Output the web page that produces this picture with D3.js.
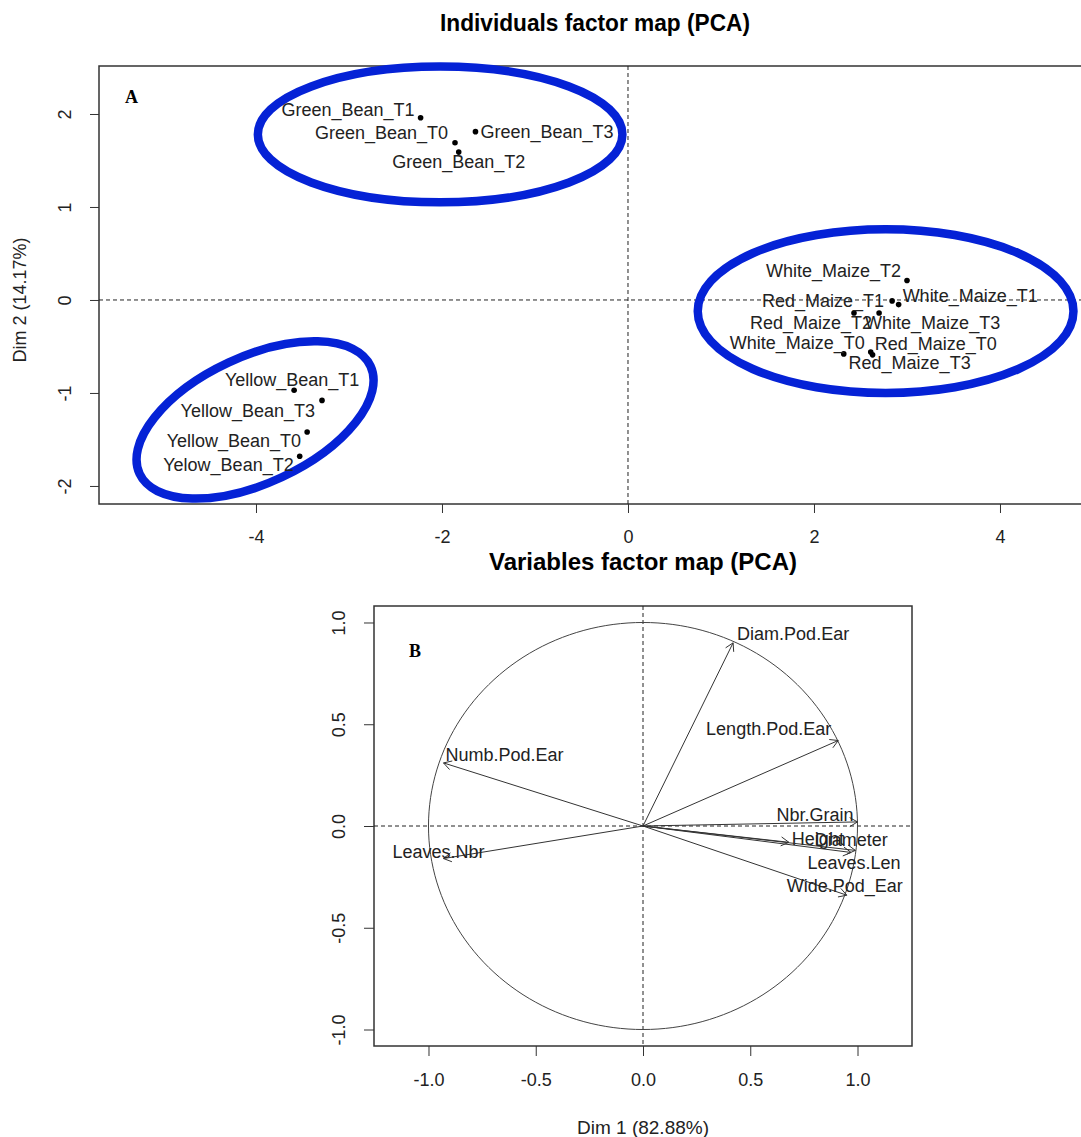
<!DOCTYPE html>
<html>
<head>
<meta charset="utf-8">
<script src="https://cdn.jsdelivr.net/npm/d3@7"></script>
<style>
  body { margin: 0; background: #fff; }
  svg { display: block; font-family: "Liberation Sans", Arial, sans-serif; }
</style>
</head>
<body>
<svg width="1081" height="1137"></svg>
<script>
// individuals (PCA scores, Dim 1 / Dim 2)
var indNames = ["Green_Bean_T1", "Green_Bean_T0", "Green_Bean_T3", "Green_Bean_T2",
  "White_Maize_T2", "White_Maize_T1", "Red_Maize_T1", "Red_Maize_T2", "White_Maize_T3",
  "White_Maize_T0", "Red_Maize_T0", "Red_Maize_T3",
  "Yellow_Bean_T1", "Yellow_Bean_T3", "Yellow_Bean_T0", "Yelow_Bean_T2"];
var indDim1 = [-2.23, -1.86, -1.64, -1.82, 3.00, 2.91, 2.84, 2.43, 2.70, 2.32, 2.61, 2.63, -3.59, -3.29, -3.45, -3.53];
var indDim2 = [1.96, 1.69, 1.81, 1.59, 0.21, -0.05, -0.01, -0.14, -0.14, -0.58, -0.56, -0.59, -0.97, -1.08, -1.42, -1.68];

// label placement around each point: [anchor, dx, dy] in px
var indLabelPos = [["end", -6, -8], ["end", -7, -10], ["start", 5, 0], ["middle", 0, 10],
  ["end", -6, -9], ["start", 4, -9], ["end", -8, 0], ["end", 18, 10], ["start", -14, 10],
  ["end", 21, -11], ["start", 4, -8], ["start", -24, 8],
  ["middle", -2, -10], ["end", -7, 11], ["end", -6, 9], ["end", -6, 9]];

// group ellipses drawn by hand: centre, semi-axes (dim units), tilt (deg)
var groupCx = [-2.02, 2.77, -4.01];
var groupCy = [1.78, -0.12, -1.29];
var groupRx = [1.96, 2.02, 1.37];
var groupRy = [0.73, 0.88, 0.68];
var groupTilt = [0, 0, -25];

// variables (correlations with Dim 1 / Dim 2)
var varNames = ["Diam.Pod.Ear", "Length.Pod.Ear", "Numb.Pod.Ear", "Nbr.Grain", "Height",
  "Diameter", "Leaves.Len", "Wide.Pod_Ear", "Leaves.Nbr"];
var varDim1 = [0.42, 0.91, -0.93, 1.00, 0.68, 0.99, 0.97, 0.95, -0.93];
var varDim2 = [0.90, 0.42, 0.31, 0.02, -0.08, -0.12, -0.13, -0.34, -0.16];
var varLabelPos = [["start", 4, -9], ["end", -7, -12], ["start", 2, -8], ["end", -4, -7],
  ["start", 3, -3], ["middle", -4, -10], ["middle", 3, 11], ["middle", -2, -9], ["middle", -5, -7]];

var ticksA_x = [-4, -2, 0, 2, 4];
var ticksA_y = [-2, -1, 0, 1, 2];
var ticksB = [-1, -0.5, 0, 0.5, 1];

var svg = d3.select("svg");
var ink = "#222";
// R prints a plain hyphen for negatives
function hy(f) { return function(v) { return f(v).replace("\u2212", "-"); }; }

// ---------- panel A ----------
var xA = d3.scaleLinear().domain([-5.688, 5]).range([99, 1093]);
var yA = d3.scaleLinear().domain([-2.194, 2.516]).range([504, 66]);

svg.append("text")
  .attr("x", 595).attr("y", 31)
  .attr("text-anchor", "middle")
  .attr("textLength", 310).attr("lengthAdjust", "spacingAndGlyphs")
  .style("font-weight", "bold").style("font-size", "24px")
  .text("Individuals factor map (PCA)");

var gA = svg.append("g");

gA.append("rect")
  .attr("x", 99).attr("y", 66)
  .attr("width", 1093 - 99).attr("height", 504 - 66)
  .attr("fill", "none").attr("stroke", "#333").attr("stroke-width", 1.5);

gA.append("line")
  .attr("x1", xA(0)).attr("x2", xA(0)).attr("y1", 66).attr("y2", 504)
  .attr("stroke", "#222").attr("stroke-dasharray", "4,3");
gA.append("line")
  .attr("x1", 99).attr("x2", 1093).attr("y1", yA(0)).attr("y2", yA(0))
  .attr("stroke", "#222").attr("stroke-dasharray", "4,3");

var axA_x = gA.append("g")
  .attr("transform", "translate(0,504)")
  .call(d3.axisBottom(xA).tickValues(ticksA_x).tickSize(9).tickPadding(17).tickFormat(hy(d3.format("d"))));
var axA_y = gA.append("g")
  .attr("transform", "translate(99,0)")
  .call(d3.axisLeft(yA).tickValues(ticksA_y).tickSize(9).tickFormat(hy(d3.format("d"))));
[axA_x, axA_y].forEach(function(a) {
  a.select(".domain").remove();
  a.selectAll("line").attr("stroke", "#333");
  a.selectAll("text").style("font-size", "18px").attr("fill", ink)
    .style("font-family", "'Liberation Sans', Arial, sans-serif");
});
axA_y.selectAll("text")
  .attr("x", null).attr("dy", null)
  .attr("text-anchor", "middle")
  .attr("transform", "translate(-28,0) rotate(-90)");

gA.append("text")
  .attr("transform", "translate(26,300) rotate(-90)")
  .attr("text-anchor", "middle")
  .style("font-size", "18px").attr("fill", ink)
  .text("Dim 2 (14.17%)");

gA.append("text")
  .attr("x", 125).attr("y", 103)
  .style("font-family", "'Liberation Serif', 'Times New Roman', serif")
  .style("font-weight", "bold").style("font-size", "18px")
  .text("A");

// ellipses around the three groups
groupCx.forEach(function(cx, i) {
  var rxPx = xA(groupRx[i]) - xA(0);
  var ryPx = yA(0) - yA(groupRy[i]);
  gA.append("ellipse")
    .attr("cx", 0).attr("cy", 0)
    .attr("rx", rxPx).attr("ry", ryPx)
    .attr("transform", "translate(" + xA(cx) + "," + yA(groupCy[i]) + ") rotate(" + groupTilt[i] + ")")
    .attr("fill", "none").attr("stroke", "#0522d6").attr("stroke-width", 8.5);
});

var ind = indNames.map(function(n, i) { return {name: n, x: indDim1[i], y: indDim2[i], pos: indLabelPos[i]}; });

gA.selectAll("circle.pt")
  .data(ind).enter()
  .append("circle")
    .attr("class", "pt")
    .attr("cx", function(d) { return xA(d.x); })
    .attr("cy", function(d) { return yA(d.y); })
    .attr("r", 2.8)
    .attr("fill", "#000");

gA.selectAll("text.lab")
  .data(ind).enter()
  .append("text")
    .attr("class", "lab")
    .attr("x", function(d) { return xA(d.x) + d.pos[1]; })
    .attr("y", function(d) { return yA(d.y) + d.pos[2]; })
    .attr("dominant-baseline", "central")
    .attr("text-anchor", function(d) { return d.pos[0]; })
    .style("font-size", "18px").attr("fill", ink)
    .text(function(d) { return d.name; });

// ---------- panel B ----------
var xB = d3.scaleLinear().domain([-1.254, 1.254]).range([374, 912]);
var yB = d3.scaleLinear().domain([-1.081, 1.081]).range([1046, 606]);

svg.append("text")
  .attr("x", 643).attr("y", 570)
  .attr("text-anchor", "middle")
  .attr("textLength", 308).attr("lengthAdjust", "spacingAndGlyphs")
  .style("font-weight", "bold").style("font-size", "24px")
  .text("Variables factor map (PCA)");

var gB = svg.append("g");

gB.append("rect")
  .attr("x", 374).attr("y", 606)
  .attr("width", 912 - 374).attr("height", 1046 - 606)
  .attr("fill", "none").attr("stroke", "#333").attr("stroke-width", 1.5);

gB.append("line")
  .attr("x1", xB(0)).attr("x2", xB(0)).attr("y1", 606).attr("y2", 1046)
  .attr("stroke", "#222").attr("stroke-dasharray", "4,3");
gB.append("line")
  .attr("x1", 374).attr("x2", 912).attr("y1", yB(0)).attr("y2", yB(0))
  .attr("stroke", "#222").attr("stroke-dasharray", "4,3");

var fmt1 = hy(d3.format(".1f"));
var axB_x = gB.append("g")
  .attr("transform", "translate(0,1046)")
  .call(d3.axisBottom(xB).tickValues(ticksB).tickSize(10).tickPadding(17).tickFormat(fmt1));
var axB_y = gB.append("g")
  .attr("transform", "translate(374,0)")
  .call(d3.axisLeft(yB).tickValues(ticksB).tickSize(10).tickFormat(fmt1));
[axB_x, axB_y].forEach(function(a) {
  a.select(".domain").remove();
  a.selectAll("line").attr("stroke", "#333");
  a.selectAll("text").style("font-size", "18px").attr("fill", ink)
    .style("font-family", "'Liberation Sans', Arial, sans-serif");
});
axB_y.selectAll("text")
  .attr("x", null).attr("dy", null)
  .attr("text-anchor", "middle")
  .attr("transform", "translate(-29,0) rotate(-90)");

gB.append("text")
  .attr("x", 643).attr("y", 1134)
  .attr("text-anchor", "middle")
  .style("font-size", "19px").attr("fill", ink)
  .text("Dim 1 (82.88%)");

gB.append("text")
  .attr("x", 409).attr("y", 657)
  .style("font-family", "'Liberation Serif', 'Times New Roman', serif")
  .style("font-weight", "bold").style("font-size", "18px")
  .text("B");

// correlation circle
var circ = d3.range(0, 361, 2).map(function(a) {
  var r = a * Math.PI / 180;
  return [Math.cos(r), Math.sin(r)];
});
gB.append("path")
  .attr("d", d3.line().x(function(d) { return xB(d[0]); }).y(function(d) { return yB(d[1]); })(circ))
  .attr("fill", "none").attr("stroke", "#444").attr("stroke-width", 1);

var vars = varNames.map(function(n, i) { return {name: n, x: varDim1[i], y: varDim2[i], pos: varLabelPos[i]}; });

var arr = gB.selectAll("g.arrow").data(vars).enter().append("g").attr("class", "arrow");
arr.append("line")
  .attr("x1", xB(0)).attr("y1", yB(0))
  .attr("x2", function(d) { return xB(d.x); })
  .attr("y2", function(d) { return yB(d.y); })
  .attr("stroke", "#333").attr("stroke-width", 1);
arr.append("path")
  .attr("d", function(d) {
    var tx = xB(d.x), ty = yB(d.y);
    var ang = Math.atan2(ty - yB(0), tx - xB(0));
    var L = 9, h = Math.PI / 6;
    var p1 = [tx - L * Math.cos(ang - h), ty - L * Math.sin(ang - h)];
    var p2 = [tx - L * Math.cos(ang + h), ty - L * Math.sin(ang + h)];
    return "M" + p1 + "L" + tx + "," + ty + "L" + p2;
  })
  .attr("fill", "none").attr("stroke", "#333").attr("stroke-width", 1);
arr.append("text")
  .attr("x", function(d) { return xB(d.x) + d.pos[1]; })
  .attr("y", function(d) { return yB(d.y) + d.pos[2]; })
  .attr("dominant-baseline", "central")
  .attr("text-anchor", function(d) { return d.pos[0]; })
  .style("font-size", "18px").attr("fill", ink)
  .text(function(d) { return d.name; });
</script>
</body>
</html>
